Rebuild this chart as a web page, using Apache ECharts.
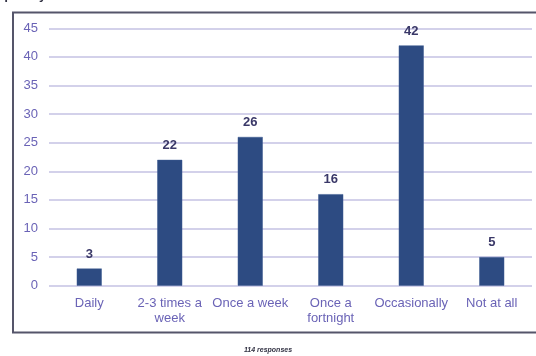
<!DOCTYPE html>
<html>
<head>
<meta charset="utf-8">
<style>
  html, body { margin: 0; padding: 0; background: #ffffff; }
  #chart { width: 536px; height: 356px; }
</style>
<script src="https://cdn.jsdelivr.net/npm/echarts@6/dist/echarts.min.js"></script>
</head>
<body>
<div id="chart"></div>
<script>
// Survey answers: how often the facility is used
const categories = ['Daily', '2-3 times a\nweek', 'Once a week', 'Once a\nfortnight', 'Occasionally', 'Not at all'];
const responses = [3, 22, 26, 16, 42, 5];
const yTicks = [0, 5, 10, 15, 20, 25, 30, 35, 40, 45];
const footnote = '114 responses';
const headingTail = 'quently used';

const chart = echarts.init(document.getElementById('chart'), null, { renderer: 'canvas' });

const axisColor = '#6a63b6';
const font = 'Liberation Sans, Arial, sans-serif';

chart.setOption({
  animation: false,
  backgroundColor: '#ffffff',
  grid: { left: 49, right: 4, top: 28.3, bottom: 70.3, containLabel: false },
  xAxis: {
    type: 'category',
    data: categories,
    axisLine: { show: false },
    axisTick: { show: false },
    axisLabel: {
      color: axisColor, fontFamily: font, fontSize: 13, margin: 10,
      lineHeight: 15, interval: 0
    }
  },
  yAxis: {
    type: 'value',
    min: yTicks[0],
    max: yTicks[yTicks.length - 1],
    interval: yTicks[1] - yTicks[0],
    axisLine: { show: false },
    axisTick: { show: false },
    axisLabel: { color: axisColor, fontFamily: font, fontSize: 13, margin: 11 },
    splitLine: { lineStyle: { color: '#d3d1ea', width: 2 } }
  },
  series: [{
    type: 'bar',
    data: responses,
    barWidth: 25,
    itemStyle: { color: '#2d4b82', borderColor: '#3d5a90', borderWidth: 0.5 },
    label: {
      show: true, position: 'top', distance: 8,
      color: '#3a3868', fontFamily: font, fontSize: 13, fontWeight: 'bold'
    }
  }],
  graphic: [
    {
      type: 'rect', silent: true, z: -1,
      shape: { x: 13, y: 12.5, width: 540, height: 320 },
      style: { fill: 'none', stroke: '#55556a', lineWidth: 2 }
    },
    {
      type: 'text', left: 0, top: -11,
      style: { text: headingTail, fill: '#333344', font: 'bold 13px ' + font }
    },
    {
      type: 'text', left: 'center', top: 347,
      style: { text: footnote, fill: '#333344', font: 'italic bold 7px ' + font }
    }
  ]
});
</script>
</body>
</html>
